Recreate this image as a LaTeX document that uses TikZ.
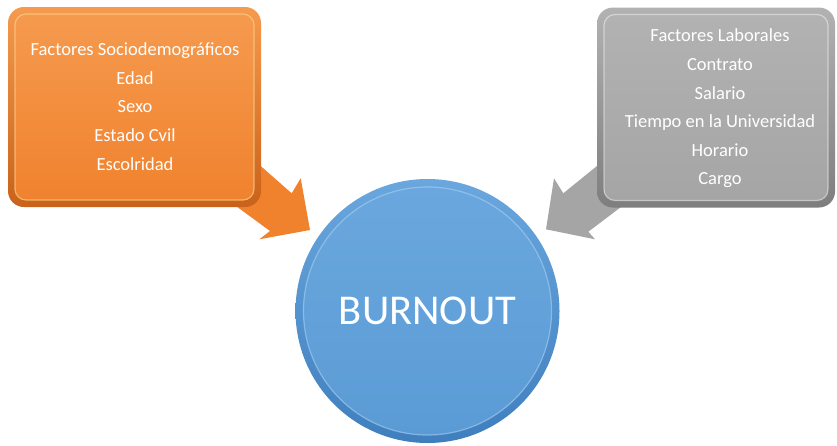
\documentclass[tikz,border=0pt]{standalone}
\usepackage{fontspec}
\setmainfont{Carlito}
\definecolor{orMain}{HTML}{F0822E}
\definecolor{orTop}{HTML}{F59A4E}
\definecolor{orDark}{HTML}{C9621A}
\definecolor{orHi}{HTML}{FBD08A}
\definecolor{grMain}{HTML}{A5A5A5}
\definecolor{grTop}{HTML}{B2B2B2}
\definecolor{grDark}{HTML}{7E7E7E}
\definecolor{blMain}{HTML}{5B9BD5}
\definecolor{blTop}{HTML}{6AA7DE}
\definecolor{blDark}{HTML}{3F7FBE}
\definecolor{blHi}{HTML}{A9CFF0}
\tikzset{
  outerbox/.style={rounded corners=16pt, minimum width=253pt, minimum height=200pt, inner sep=0pt},
  innerbox/.style={rounded corners=11pt, minimum width=239pt, minimum height=186pt, inner sep=0pt},
  boxtext/.style={text=white, align=center, font=\fontsize{18.5}{28.6}\selectfont},
}
\begin{document}
\begin{tikzpicture}[x=1pt,y=-1pt]
\useasboundingbox (0,0) rectangle (837,445);
% arrows (behind boxes)
\fill[orMain] (238,146) -- (291.7,193.3) -- (300.7,178.3) -- (310,230) -- (259.3,239.3) -- (270,231) -- (225,198) -- cycle;
\fill[grMain] (608,157) -- (563.3,193.3) -- (554,178.3) -- (546,229.3) -- (595,239.3) -- (588.3,231.7) -- (625,204) -- cycle;
% orange box
\node[outerbox, top color=orTop, bottom color=orDark] (soc) at (134.5,107) {};
\node[innerbox, top color=orTop, bottom color=orMain, draw=orHi, line width=1.2pt, draw opacity=0.7] (socin) at (soc.center) {};
\node[boxtext] (soctext) at (135,106.5) {Factores Sociodemográficos\\Edad\\Sexo\\Estado Cvil\\Escolridad};
% gray box
\node[outerbox, minimum width=238pt, top color=grTop, bottom color=grDark] (lab) at (716,107.5) {};
\node[innerbox, minimum width=224pt, top color=grTop, bottom color=grMain, draw=white, line width=1.2pt, draw opacity=0.45] (labin) at (lab.center) {};
\node[boxtext] (labtext) at (720,108.5) {Factores Laborales\\Contrato\\Salario\\Tiempo en la Universidad\\Horario\\Cargo};
% circle
\node[circle, minimum size=264pt, inner sep=0pt, top color=blTop, bottom color=blDark] (burn) at (427.5,311) {};
\node[circle, minimum size=248pt, inner sep=0pt, top color=blTop, bottom color=blMain, draw=blHi, line width=1.2pt, draw opacity=0.6] (burnin) at (burn.center) {};
\node[text=white, font=\fontsize{42.5}{48}\selectfont] (burntext) at (burn.center) {BURNOUT};
\end{tikzpicture}
\end{document}
